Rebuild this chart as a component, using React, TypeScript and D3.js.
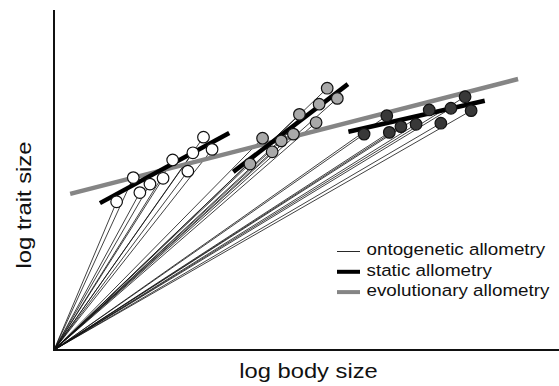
import * as d3 from 'd3';
import React, { useEffect } from 'react';

// three species: individual (log body, log trait) points
const speciesA: [number, number][] = [
  [1.24, 4.36], [1.70, 4.63], [1.90, 4.88], [1.57, 5.07], [2.16, 5.05],
  [2.65, 5.26], [2.35, 5.59], [2.75, 5.80], [3.13, 5.90], [2.96, 6.26],
];
const speciesB: [number, number][] = [
  [3.88, 5.47], [4.32, 5.83], [4.13, 6.23], [4.50, 6.15], [4.74, 6.35],
  [5.19, 6.69], [4.86, 6.93], [5.25, 7.23], [5.61, 7.40], [5.41, 7.70],
];
const speciesC: [number, number][] = [
  [6.14, 6.35], [6.59, 6.89], [6.64, 6.40], [6.87, 6.57], [7.17, 6.64],
  [7.66, 6.67], [7.43, 7.06], [7.86, 7.11], [8.14, 7.45], [8.26, 7.04],
];
const speciesFill = ['#ffffff', '#a9a9a9', '#383838'];

// static allometry segments per species
const staticLines: [number, number][][] = [
  [[0.91, 4.32], [3.47, 6.38]],
  [[3.55, 5.24], [5.82, 7.82]],
  [[5.83, 6.42], [8.53, 7.33]],
];
// evolutionary allometry segment
const evoLine: [number, number][] = [[0.32, 4.59], [9.19, 7.97]];

const legendLabels = ['ontogenetic allometry', 'static allometry', 'evolutionary allometry'];

export default function App() {
  const ref = React.useRef<SVGSVGElement>(null);

  useEffect(() => {
    if (!ref.current) return;
    const svg = d3.select(ref.current);
    svg.selectAll('*').remove();

    const width = 559;
    const height = 386;
    const margin = { top: 10, right: 0, bottom: 36, left: 54 };

    const x = d3.scaleLinear().domain([0, 10]).range([margin.left, width - margin.right]);
    const y = d3.scaleLinear().domain([0, 10]).range([height - margin.bottom, margin.top]);
    const line = d3.line<[number, number]>().x(d => x(d[0])).y(d => y(d[1]));

    const groups = [speciesA, speciesB, speciesC];
    const font = 'Liberation Sans, Arial, sans-serif';

    // ontogenetic lines from origin
    groups.forEach(g => {
      svg.append('g')
        .selectAll('path')
        .data(g)
        .enter()
        .append('path')
        .attr('d', d => line([[0, 0], d]))
        .attr('stroke', '#111')
        .attr('stroke-width', 0.8)
        .attr('fill', 'none');
    });

    // evolutionary
    svg.append('path')
      .attr('d', line(evoLine))
      .attr('stroke', '#858585')
      .attr('stroke-width', 4.5)
      .attr('fill', 'none');

    // static
    svg.append('g')
      .selectAll('path')
      .data(staticLines)
      .enter()
      .append('path')
      .attr('d', d => line(d))
      .attr('stroke', '#000')
      .attr('stroke-width', 4.5)
      .attr('fill', 'none');

    // points
    groups.forEach((g, i) => {
      svg.append('g')
        .selectAll('circle')
        .data(g)
        .enter()
        .append('circle')
        .attr('cx', d => x(d[0]))
        .attr('cy', d => y(d[1]))
        .attr('r', 5.8)
        .attr('fill', speciesFill[i])
        .attr('stroke', '#111')
        .attr('stroke-width', 1.2);
    });

    // axes
    svg.append('path')
      .attr('d', `M${x(0)},${y(0) - 340}V${y(0)}H${x(10)}`)
      .attr('stroke', '#111')
      .attr('stroke-width', 2)
      .attr('fill', 'none');

    // text in the source is a bit wider than Liberation Sans, so stretch it
    svg.append('text')
      .attr('transform', `translate(${(x(0) + x(10)) / 2 + 2},377.5) scale(1.13,1)`)
      .attr('text-anchor', 'middle')
      .attr('font-family', font)
      .attr('font-size', 21)
      .attr('fill', '#111')
      .text('log body size');

    svg.append('text')
      .attr('transform', 'translate(31,205) rotate(-90) scale(1.19,1)')
      .attr('text-anchor', 'middle')
      .attr('font-family', font)
      .attr('font-size', 20)
      .attr('fill', '#111')
      .text('log trait size');

    // legend
    const legStyles = [
      { w: 0.9, c: '#111' },
      { w: 4, c: '#000' },
      { w: 4, c: '#858585' },
    ];
    const leg = svg.append('g').attr('transform', 'translate(337,251.5)');
    legendLabels.forEach((lab, i) => {
      const row = leg.append('g').attr('transform', `translate(0,${i * 20.3})`);
      row.append('line')
        .attr('x1', 0).attr('x2', 23)
        .attr('stroke', legStyles[i].c)
        .attr('stroke-width', legStyles[i].w);
      row.append('text')
        .attr('transform', 'translate(29.5,3.8) scale(1.14,1)')
        .attr('font-family', font)
        .attr('font-size', 16.5)
        .attr('fill', '#111')
        .text(lab);
    });
  }, []);

  return (
    <svg
      ref={ref}
      width={559}
      height={386}
      style={{ position: 'absolute', left: 0, top: 0, background: '#fff' }}
    />
  );
}
